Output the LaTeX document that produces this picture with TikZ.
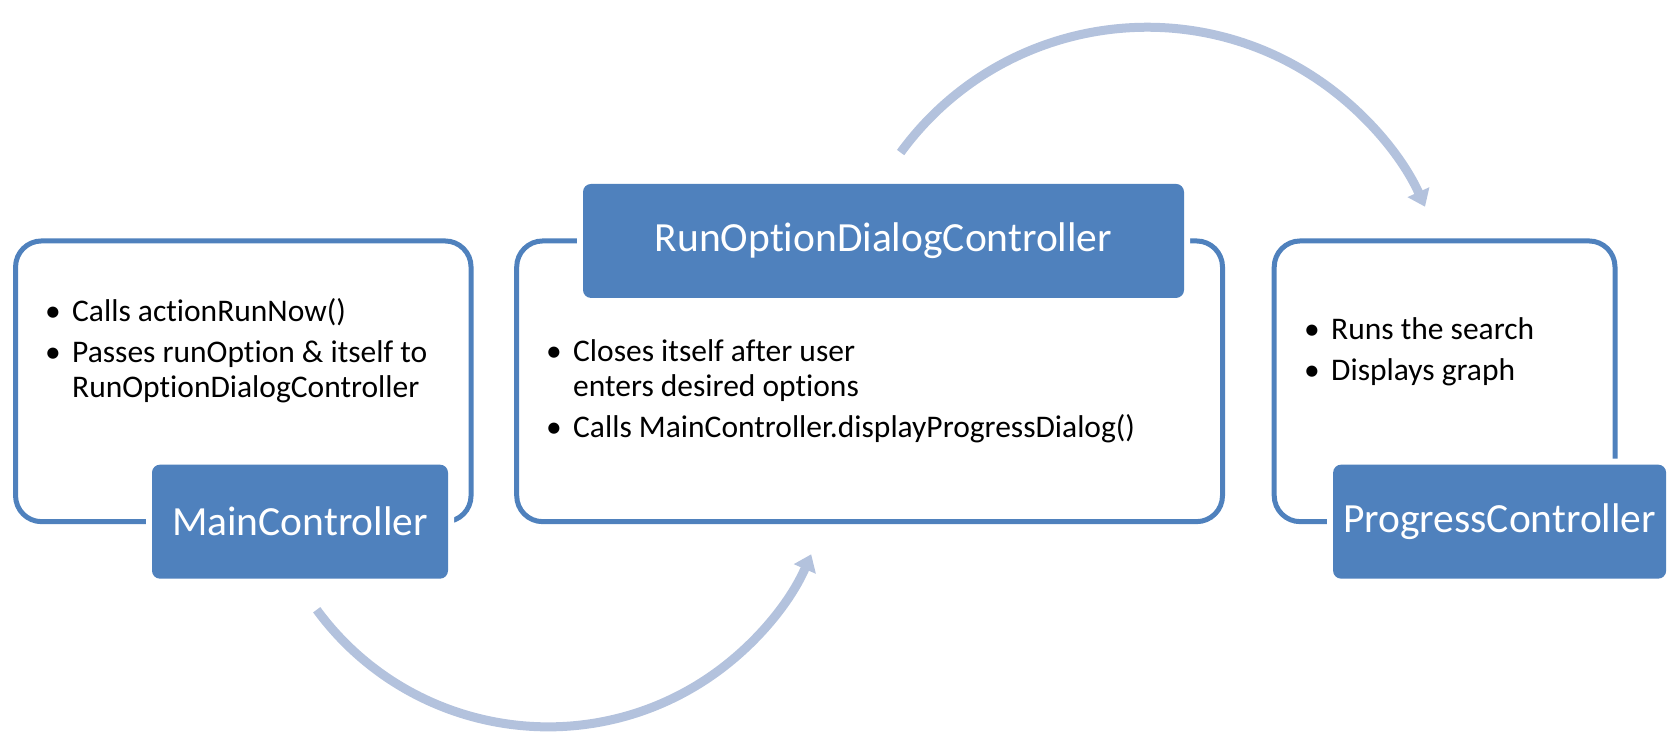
\documentclass[tikz,border=0pt]{standalone}
\usepackage{fontspec}
\setmainfont{Carlito}[Ligatures=NoCommon]
\usetikzlibrary{arrows.meta,positioning}

\definecolor{ctlblue}{RGB}{79,129,189}
\definecolor{flowblue}{RGB}{179,194,221}
\newcommand{\bul}{\makebox[27pt][l]{\textbullet}}
\newcommand{\ind}{\hspace*{27pt}}

\begin{document}
\begin{tikzpicture}[
  x=1pt, y=1pt,
  frame/.style={rectangle,rounded corners=26pt,draw=ctlblue,line width=5pt,outer sep=0pt,minimum height=280.7pt},
  ctl/.style={rectangle,rounded corners=8pt,fill=ctlblue,text=white,minimum height=114pt,
    font=\fontsize{41.5}{49}\selectfont,preaction={draw=white,line width=12pt}},
  items/.style={anchor=north west,align=left,inner sep=0pt,font=\fontsize{31.5}{35}\selectfont},
  flow/.style={draw=flowblue,line width=9pt,-{Triangle[length=16pt,width=23pt]}}
]
\useasboundingbox (0,0) rectangle (1669,732);

% frames round each controller
\node[frame, minimum width=455.5pt] (mainfr) at (243.3,350.7) {};
\node[frame, minimum width=705.8pt] (runfr) at (869.6,350.7) {};
\node[frame, minimum width=340.8pt] (progfr) at (1444.6,350.7) {};

% what each one does
\node[items] (mainlist) at (45,434) {\bul Calls actionRunNow()\\[6pt]
  \bul Passes runOption \& itself to\\ \ind RunOptionDialogController};
\node[items] (runlist) at (546,393) {\bul Closes itself after user\\ \ind enters desired options\\[6pt]
  \bul Calls MainController.displayProgressDialog()};
\node[items] (proglist) at (1304,415) {\bul Runs the search\\[6pt] \bul Displays graph};

% controller names
\node[ctl, minimum width=296pt] (mainctl) at ([xshift=56.7pt]mainfr.south) {MainController};
\node[ctl, minimum width=601pt] (runctl) at ([xshift=13.9pt]runfr.north) {RunOptionDialogController};
\node[ctl, minimum width=333pt] (progctl) at ([xshift=55pt]progfr.south) {ProgressController};

% hand-over arrows
\coordinate (lowstart) at ([shift={(16.7pt,-30.9pt)}]mainctl.south);
\coordinate (highstart) at ([shift={(17.1pt,31.2pt)}]runctl.north);
\draw[flow] (lowstart) arc[start angle=216.3,end angle=336.5,radius=287pt];
\draw[flow] (highstart) arc[start angle=143.9,end angle=24.3,radius=305pt];
\end{tikzpicture}
\end{document}
